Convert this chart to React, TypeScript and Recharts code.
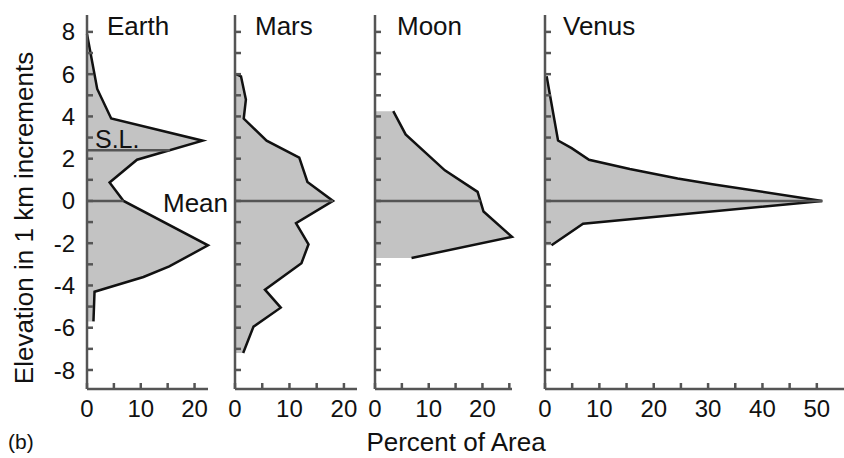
import React from "react";
import { ComposedChart, Area, XAxis, YAxis, ReferenceLine } from "recharts";

const FONT = '"Liberation Sans", Arial, Helvetica, sans-serif';
const AXIS = "#555";
const INK = "#111";
const FILL = "#c3c3c3";

// elevation (km) vs percent of surface area
const EARTH_ELEV = [7.9, 5.3, 3.9, 2.85, 1.95, 0.87, 0, -2.1, -3.1, -3.6, -4.3, -5.7];
const EARTH_PCT = [0, 1.9, 4.5, 21.5, 9.3, 4.2, 6.8, 22.5, 15.3, 10.5, 1.4, 1.2];

const MARS_ELEV = [6.0, 5.9, 4.8, 3.9, 2.85, 2.05, 0.9, 0, -1.05, -2.05, -2.95, -4.2, -5.05, -5.95, -7.2];
const MARS_PCT = [0.2, 1.1, 2.0, 1.6, 5.8, 11.8, 13.3, 18.0, 11.2, 13.5, 12.2, 5.5, 8.4, 3.4, 1.5];

const MOON_ELEV = [4.25, 3.15, 1.45, 0.43, 0, -0.5, -1.7, -2.7];
const MOON_PCT = [3.4, 5.7, 13.0, 19.1, 19.6, 20.2, 25.5, 6.8];

const VENUS_ELEV = [5.9, 2.86, 2.5, 1.95, 1.51, 1.06, 0.79, 0, -1.08, -2.1];
const VENUS_PCT = [0.3, 2.4, 4.9, 8.1, 15.6, 24.4, 30.8, 51.0, 7.0, 1.2];

const ELEV_TICKS = [-8, -7, -6, -5, -4, -3, -2, -1, 0, 1, 2, 3, 4, 5, 6, 7, 8];
const ELEV_LABELS = [-8, -6, -4, -2, 0, 2, 4, 6, 8];
const PCT_TICKS_25 = [0, 5, 10, 15, 20, 25];
const PCT_TICKS_55 = [0, 5, 10, 15, 20, 25, 30, 35, 40, 45, 50];
const PCT_LABELS = [0, 10, 20, 30, 40, 50];

const SEA_LEVEL = 2.4;
const MEAN = 0;

const rows = (elev: number[], pct: number[]) => elev.map((e, i) => ({ elev: e, v: pct[i] }));

// percent value of the profile at a given elevation (linear between read points)
function pctAt(elev: number[], pct: number[], level: number) {
  for (let i = 0; i < elev.length - 1; i++) {
    const a = elev[i], b = elev[i + 1];
    if ((a >= level && b <= level) || (a <= level && b >= level)) {
      if (a === b) return pct[i];
      const t = (a - level) / (a - b);
      return pct[i] + t * (pct[i + 1] - pct[i]);
    }
  }
  return 0;
}

const H = 458;
const TOP = 15;
const BOTTOM = 39;
const XAXIS_H = 30;

interface PanelProps {
  elev: number[];
  pct: number[];
  axisX: number;
  plotW: number;
  max: number;
  xTicks: number[];
  showY?: boolean;
  seaLevel?: number;
}

function Panel({ elev, pct, axisX, plotW, max, xTicks, showY, seaLevel }: PanelProps) {
  const yw = showY ? axisX : 20;
  const left = axisX - yw;
  const data = rows(elev, pct);
  const meanV = pctAt(elev, pct, MEAN);
  const lineStyle = { stroke: AXIS, strokeWidth: 2.5 };
  return (
    <div style={{ position: "absolute", left, top: 0 }}>
      <ComposedChart
        layout="vertical"
        width={yw + plotW + 4}
        height={H}
        data={data}
        margin={{ top: TOP, right: 4, bottom: BOTTOM, left: 0 }}
        style={{ overflow: "visible" }}
      >
        <XAxis
          type="number"
          domain={[0, max]}
          ticks={xTicks}
          interval={0}
          height={XAXIS_H}
          tickSize={-6}
          tickMargin={17}
          axisLine={lineStyle}
          tickLine={lineStyle}
          tick={{ fontSize: 24, fill: INK, fontFamily: FONT }}
          tickFormatter={(t: number) => (PCT_LABELS.includes(t) ? String(t) : "")}
        />
        <YAxis
          type="number"
          dataKey="elev"
          domain={[-8.9, 8.8]}
          reversed
          ticks={ELEV_TICKS}
          interval={0}
          width={yw}
          tickSize={-6}
          tickMargin={18}
          axisLine={lineStyle}
          tickLine={lineStyle}
          tick={{ fontSize: 24, fill: INK, fontFamily: FONT }}
          tickFormatter={(t: number) => (showY && ELEV_LABELS.includes(t) ? String(t) : "")}
        />
        <Area
          type="linear"
          dataKey="v"
          stroke={INK}
          strokeWidth={2.5}
          fill={FILL}
          fillOpacity={1}
          isAnimationActive={false}
          dot={false}
          activeDot={false}
        />
        <ReferenceLine
          segment={[{ x: 0, y: MEAN }, { x: meanV, y: MEAN }]}
          stroke={AXIS}
          strokeWidth={2.5}
          ifOverflow="visible"
        />
        {seaLevel !== undefined && (
          <ReferenceLine
            segment={[{ x: 0, y: seaLevel }, { x: pctAt(elev, pct, seaLevel), y: seaLevel }]}
            stroke={AXIS}
            strokeWidth={2.5}
            ifOverflow="visible"
          />
        )}
      </ComposedChart>
    </div>
  );
}

export default function App() {
  const txt = { fontFamily: FONT, fill: INK };
  return (
    <div style={{ position: "absolute", left: 0, top: 0, width: 844, height: H, background: "#fff", overflow: "hidden" }}>
      <Panel elev={EARTH_ELEV} pct={EARTH_PCT} axisX={87} plotW={121} max={22.5} xTicks={PCT_TICKS_25.slice(0, 5)} showY seaLevel={SEA_LEVEL} />
      <Panel elev={MARS_ELEV} pct={MARS_PCT} axisX={235} plotW={122} max={22.4} xTicks={PCT_TICKS_25.slice(0, 5)} />
      <Panel elev={MOON_ELEV} pct={MOON_PCT} axisX={375} plotW={137} max={25.5} xTicks={PCT_TICKS_25} />
      <Panel elev={VENUS_ELEV} pct={VENUS_PCT} axisX={545} plotW={299} max={55} xTicks={PCT_TICKS_55} />
      <svg width={844} height={H} style={{ position: "absolute", left: 0, top: 0, pointerEvents: "none" }}>
        <text x={107} y={35} fontSize={26} {...txt}>Earth</text>
        <text x={255} y={35} fontSize={26} {...txt}>Mars</text>
        <text x={397} y={35} fontSize={26} {...txt}>Moon</text>
        <text x={563} y={35} fontSize={26} {...txt}>Venus</text>
        <text x={95} y={148} fontSize={25} {...txt}>S.L.</text>
        <text x={163} y={212} fontSize={26} {...txt}>Mean</text>
        <text x={456} y={451} fontSize={26} textAnchor="middle" {...txt}>Percent of Area</text>
        <text x={8} y={449} fontSize={21} {...txt}>(b)</text>
        <text x={0} y={0} fontSize={26} textAnchor="middle" transform="translate(33,218) rotate(-90)" {...txt}>
          Elevation in 1 km increments
        </text>
      </svg>
    </div>
  );
}
